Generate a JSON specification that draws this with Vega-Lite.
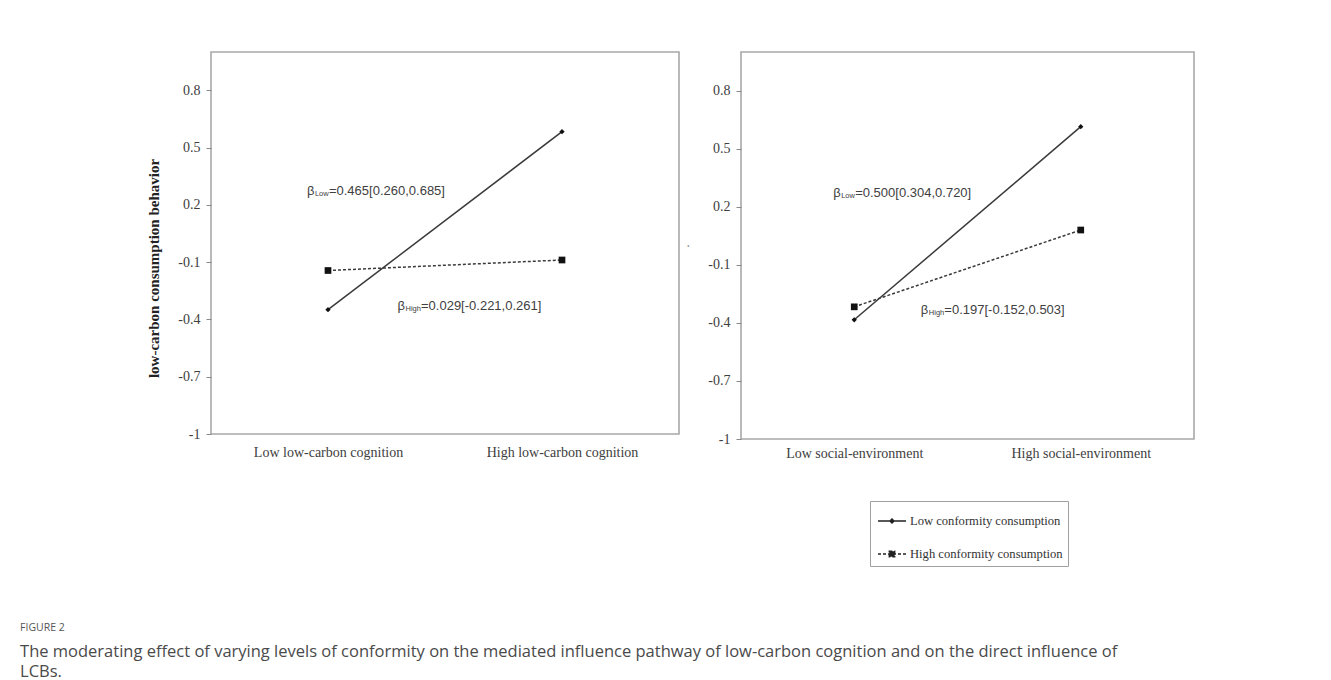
{
  "$schema": "https://vega.github.io/schema/vega-lite/v6.json",
  "padding": {"left": 20, "top": 51, "right": 5, "bottom": 0},
  "background": "white",
  "datasets": {
    "lines": [
      {"panel": "cognition", "group": "Low conformity consumption", "level": 0, "value": -0.349},
      {"panel": "cognition", "group": "Low conformity consumption", "level": 1, "value": 0.583},
      {"panel": "cognition", "group": "High conformity consumption", "level": 0, "value": -0.144},
      {"panel": "cognition", "group": "High conformity consumption", "level": 1, "value": -0.089},
      {"panel": "social", "group": "Low conformity consumption", "level": 0, "value": -0.384},
      {"panel": "social", "group": "Low conformity consumption", "level": 1, "value": 0.614},
      {"panel": "social", "group": "High conformity consumption", "level": 0, "value": -0.317},
      {"panel": "social", "group": "High conformity consumption", "level": 1, "value": 0.08}
    ],
    "notes": [
      {"panel": "cognition", "sub": "Low", "rest": "=0.465[0.260,0.685]", "level": -0.09, "value": 0.272},
      {"panel": "cognition", "sub": "High", "rest": "=0.029[-0.221,0.261]", "level": 0.297, "value": -0.328},
      {"panel": "social", "sub": "Low", "rest": "=0.500[0.304,0.720]", "level": -0.093, "value": 0.271},
      {"panel": "social", "sub": "High", "rest": "=0.197[-0.152,0.503]", "level": 0.294, "value": -0.331}
    ]
  },
  "title": {
    "text": "FIGURE 2",
    "subtitle": ["The moderating effect of varying levels of conformity on the mediated influence pathway of low-carbon cognition and on the direct influence of", "LCBs."],
    "orient": "bottom",
    "anchor": "start",
    "frame": "bounds",
    "dx": -126,
    "offset": 56,
    "font": "Open Sans",
    "fontSize": 10.5,
    "fontWeight": "normal",
    "color": "#555555",
    "subtitleFont": "Open Sans",
    "subtitleFontSize": 16.5,
    "subtitleColor": "#4a4a4a",
    "subtitleLineHeight": 20,
    "subtitlePadding": 11
  },
  "config": {
    "view": {"stroke": "#a8a8a8", "strokeWidth": 1.6},
    "axis": {
      "labelFont": "Liberation Serif",
      "labelFontSize": 14,
      "labelColor": "#404040",
      "titleFont": "Liberation Serif",
      "titleColor": "#222222",
      "grid": false,
      "domain": false,
      "tickColor": "#888888",
      "tickSize": 5
    },
    "legend": {
      "labelFont": "Liberation Serif",
      "labelFontSize": 12.6,
      "labelColor": "#333333"
    }
  },
  "spacing": 62,
  "bounds": "flush",
  "hconcat": [
    {
      "width": 468,
      "height": 382,
      "encoding": {
        "x": {
          "field": "level", "type": "quantitative",
          "scale": {"domain": [-0.5, 1.5]},
          "axis": {"values": [0, 1], "labelExpr": "datum.value === 0 ? 'Low low-carbon cognition' : 'High low-carbon cognition'", "title": null, "ticks": false, "labelPadding": 11}
        },
        "y": {
          "field": "value", "type": "quantitative",
          "scale": {"domain": [-1, 1]},
          "axis": {"values": [-1, -0.7, -0.4, -0.1, 0.2, 0.5, 0.8], "labelExpr": "'' + datum.value", "labelPadding": 6, "title": "low-carbon consumption behavior", "titleFontWeight": "bold", "titleFontSize": 15, "titleY": 216, "titlePadding": 16}
        }
      },
      "layer": [
        {
          "data": {"name": "lines"},
          "transform": [{"filter": "datum.panel === 'cognition' && datum.group === 'Low conformity consumption'"}],
          "mark": {"type": "line", "color": "#3a3a3a", "strokeWidth": 1.5}
        },
        {
          "data": {"name": "lines"},
          "transform": [{"filter": "datum.panel === 'cognition' && datum.group === 'High conformity consumption'"}],
          "mark": {"type": "line", "color": "#3a3a3a", "strokeWidth": 1.5, "strokeDash": [3, 2]}
        },
        {
          "data": {"name": "lines"},
          "transform": [{"filter": "datum.panel === 'cognition' && datum.group === 'Low conformity consumption'"}],
          "mark": {"type": "point", "shape": "diamond", "filled": true, "color": "#111111", "size": 28, "opacity": 1}
        },
        {
          "data": {"name": "lines"},
          "transform": [{"filter": "datum.panel === 'cognition' && datum.group === 'High conformity consumption'"}],
          "mark": {"type": "point", "shape": "square", "filled": true, "color": "#111111", "size": 45, "opacity": 1}
        },
        {
          "data": {"name": "notes"},
          "transform": [{"filter": "datum.panel === 'cognition'"}],
          "mark": {"type": "text", "text": "β", "align": "left", "baseline": "middle", "font": "Liberation Sans", "fontSize": 13, "color": "#404040"}
        },
        {
          "data": {"name": "notes"},
          "transform": [{"filter": "datum.panel === 'cognition'"}],
          "mark": {"type": "text", "align": "left", "baseline": "middle", "font": "Liberation Sans", "fontSize": 7.5, "dx": 8, "dy": 3, "color": "#404040"},
          "encoding": {"text": {"field": "sub"}}
        },
        {
          "data": {"name": "notes"},
          "transform": [{"filter": "datum.panel === 'cognition' && datum.sub === 'Low'"}],
          "mark": {"type": "text", "align": "left", "baseline": "middle", "font": "Liberation Sans", "fontSize": 13, "dx": 22, "color": "#404040"},
          "encoding": {"text": {"field": "rest"}}
        },
        {
          "data": {"name": "notes"},
          "transform": [{"filter": "datum.panel === 'cognition' && datum.sub === 'High'"}],
          "mark": {"type": "text", "align": "left", "baseline": "middle", "font": "Liberation Sans", "fontSize": 13, "dx": 23.5, "color": "#404040"},
          "encoding": {"text": {"field": "rest"}}
        }
      ]
    },
    {
      "width": 453,
      "height": 387,
      "encoding": {
        "x": {
          "field": "level", "type": "quantitative",
          "scale": {"domain": [-0.5, 1.5]},
          "axis": {"values": [0, 1], "labelExpr": "datum.value === 0 ? 'Low social-environment' : 'High social-environment'", "title": null, "ticks": false, "labelPadding": 7}
        },
        "y": {
          "field": "value", "type": "quantitative",
          "scale": {"domain": [-1, 1]},
          "axis": {"values": [-1, -0.7, -0.4, -0.1, 0.2, 0.5, 0.8], "labelExpr": "'' + datum.value", "labelPadding": 6, "title": ".", "titleFontWeight": "normal", "titleFontSize": 12, "titleColor": "#666666", "titlePadding": 16}
        }
      },
      "layer": [
        {
          "data": {"name": "lines"},
          "transform": [{"filter": "datum.panel === 'social' && datum.group === 'Low conformity consumption'"}],
          "mark": {"type": "line", "color": "#3a3a3a", "strokeWidth": 1.5}
        },
        {
          "data": {"name": "lines"},
          "transform": [{"filter": "datum.panel === 'social' && datum.group === 'High conformity consumption'"}],
          "mark": {"type": "line", "color": "#3a3a3a", "strokeWidth": 1.5, "strokeDash": [3, 2]}
        },
        {
          "data": {"name": "lines"},
          "transform": [{"filter": "datum.panel === 'social' && datum.group === 'Low conformity consumption'"}],
          "mark": {"type": "point", "shape": "diamond", "filled": true, "color": "#111111", "size": 28, "opacity": 1}
        },
        {
          "data": {"name": "lines"},
          "transform": [{"filter": "datum.panel === 'social' && datum.group === 'High conformity consumption'"}],
          "mark": {"type": "point", "shape": "square", "filled": true, "color": "#111111", "size": 45, "opacity": 1}
        },
        {
          "data": {"name": "lines"},
          "transform": [{"filter": "datum.panel === 'social'"}],
          "mark": {"type": "point", "filled": true, "fill": "#222222", "stroke": "#222222", "strokeWidth": 1.2, "opacity": 0},
          "encoding": {
            "shape": {
              "field": "group", "type": "nominal",
              "scale": {
                "domain": ["Low conformity consumption", "High conformity consumption"],
                "range": ["M-1,0L1,0M0,-0.14L0.14,0L0,0.14L-0.14,0Z", "M-1,0L1,0M-0.19,-0.19L0.19,-0.19L0.19,0.19L-0.19,0.19Z"]
              },
              "legend": {
                "title": null, "orient": "none", "legendX": 659, "legendY": 449,
                "symbolSize": 784, "symbolOpacity": 1, "symbolOffset": 2,
                "padding": 5, "rowPadding": 11, "labelOffset": 3,
                "strokeColor": "#a0a0a0", "fillColor": "white"
              }
            },
            "strokeDash": {
              "field": "group", "type": "nominal",
              "scale": {
                "domain": ["Low conformity consumption", "High conformity consumption"],
                "range": [[1, 0], [3, 2]]
              },
              "legend": {
                "title": null, "orient": "none", "legendX": 659, "legendY": 449,
                "symbolSize": 784, "symbolOpacity": 1, "symbolOffset": 2,
                "padding": 5, "rowPadding": 11, "labelOffset": 3,
                "strokeColor": "#a0a0a0", "fillColor": "white"
              }
            }
          }
        },
        {
          "data": {"name": "notes"},
          "transform": [{"filter": "datum.panel === 'social'"}],
          "mark": {"type": "text", "text": "β", "align": "left", "baseline": "middle", "font": "Liberation Sans", "fontSize": 13, "color": "#404040"}
        },
        {
          "data": {"name": "notes"},
          "transform": [{"filter": "datum.panel === 'social'"}],
          "mark": {"type": "text", "align": "left", "baseline": "middle", "font": "Liberation Sans", "fontSize": 7.5, "dx": 8, "dy": 3, "color": "#404040"},
          "encoding": {"text": {"field": "sub"}}
        },
        {
          "data": {"name": "notes"},
          "transform": [{"filter": "datum.panel === 'social' && datum.sub === 'Low'"}],
          "mark": {"type": "text", "align": "left", "baseline": "middle", "font": "Liberation Sans", "fontSize": 13, "dx": 22, "color": "#404040"},
          "encoding": {"text": {"field": "rest"}}
        },
        {
          "data": {"name": "notes"},
          "transform": [{"filter": "datum.panel === 'social' && datum.sub === 'High'"}],
          "mark": {"type": "text", "align": "left", "baseline": "middle", "font": "Liberation Sans", "fontSize": 13, "dx": 23.5, "color": "#404040"},
          "encoding": {"text": {"field": "rest"}}
        }
      ]
    }
  ]
}
